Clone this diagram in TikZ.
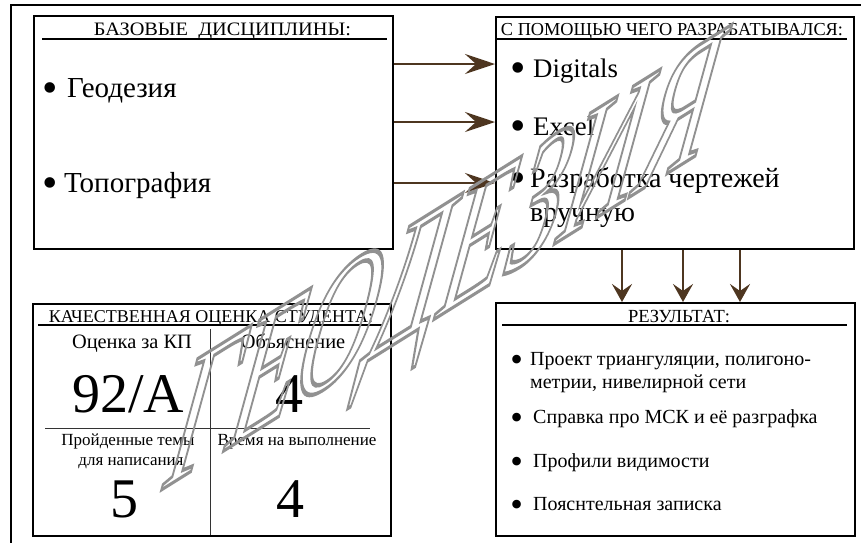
\documentclass[tikz,border=0pt]{standalone}
\usepackage{fontspec}
\setmainfont{Liberation Serif}
\usetikzlibrary{arrows.meta}
\definecolor{arr}{RGB}{78,54,32}
\definecolor{wm}{RGB}{145,145,145}
\newcommand\fs[1]{\fontsize{#1}{#1}\selectfont}
\newcommand\blt[2]{\raisebox{#2}{\fs{#1}\textbullet}}
\newcommand\outlinetext[1]{\special{pdf:literal direct 1 Tr 2.6 w}#1\special{pdf:literal direct 0 Tr}}
\begin{document}
\begin{tikzpicture}[x=1pt,y=-1pt,
  box/.style={draw=black,line width=2pt,inner sep=0pt,anchor=north west},
  rulel/.style={line width=1.3pt},
  thin/.style={line width=0.9pt,draw=black!80},
  txt/.style={inner sep=0pt,anchor=base west},
  ctr/.style={inner sep=0pt,anchor=base},
  conn/.style={draw=arr,line width=2.6pt,-{Stealth[length=30pt,width=20pt,inset=11pt]}},
  dconn/.style={draw=arr,line width=2.6pt,-{Stealth[length=18pt,width=20pt,inset=7pt]}},
]
\path[use as bounding box] (0,0) rectangle (861,542);
\clip (0,0) rectangle (861,542);
% outer frame (partly visible)
\draw[line width=2pt] (11,560) -- (11,5) -- (880,5);
% boxes
\node[box,minimum width=359pt,minimum height=233pt] (b1) at (33,15) {};
\node[box,minimum width=358pt,minimum height=232pt] (b2) at (495,16) {};
\node[box,minimum width=358pt,minimum height=232pt] (b3) at (32,303) {};
\node[box,minimum width=359pt,minimum height=233pt] (b4) at (495,302) {};
% header rules
\draw[rulel] (42,39) -- (387,39);
\draw[rulel] (497,39) -- (847,39);
\draw[rulel] (38,325) -- (382,325);
\draw[rulel] (502,325) -- (847,325);
% headers
\node[ctr,font=\fs{19}] (h1) at (222.5,35) {\scalebox{1.07}[1]{БАЗОВЫЕ\ \ ДИСЦИПЛИНЫ:}};
\node[ctr,font=\fs{18.3}] (h2) at (672,35) {С ПОМОЩЬЮ ЧЕГО РАЗРАБАТЫВАЛСЯ:};
\node[ctr,font=\fs{18}] (h3) at (211,322) {КАЧЕСТВЕННАЯ ОЦЕНКА СТУДЕНТА:};
\node[ctr,font=\fs{18.5}] (h4) at (679,322) {РЕЗУЛЬТАТ:};
% box 1
\node[txt,font=\fs{29}] (g1) at (42,97) {\blt{44}{-5pt}\hspace{9.6pt}Геодезия};
\node[txt,font=\fs{29}] (g2) at (42,192) {\blt{44}{-5pt}\hspace{6.6pt}Топография};
% box 2
\node[txt,font=\fs{26.8}] (t1) at (510,77) {\blt{44}{-5.5pt}\hspace{7.6pt}Digitals};
\node[txt,font=\fs{26.8}] (t2) at (510,135) {\blt{44}{-5.5pt}\hspace{7.6pt}Excel};
\node[txt,font=\fs{28}] (t3) at (510,187) {\blt{44}{-5.5pt}\hspace{4.6pt}Разработка чертежей};
\node[txt,font=\fs{28}] (t4) at (530,221) {вручную};
% box 3
\draw[thin] (210,329) -- (210,535);
\draw[thin] (45,428) -- (370,428);
\node[ctr,font=\fs{20.4}] (q1) at (132,348) {Оценка за КП};
\node[ctr,font=\fs{20.4}] (q2) at (293,348) {Объяснение};
\node[ctr,font=\fs{56}] (q3) at (128,412) {92/A};
\node[ctr,font=\fs{56}] (q4) at (289,412) {4};
\node[ctr,font=\fs{17}] (q5) at (128,445) {Пройденные темы};
\node[ctr,font=\fs{17}] (q6) at (131,465) {для написания};
\node[ctr,font=\fs{17}] (q7) at (297,445) {Время на выполнение};
\node[ctr,font=\fs{56}] (q8) at (124,517) {5};
\node[ctr,font=\fs{56}] (q9) at (290,517) {4};
% box 4
\node[txt,font=\fs{20}] (r1) at (510.2,365) {\blt{36}{-6pt}\hspace{7.2pt}Проект триангуляции, полигоно-};
\node[txt,font=\fs{20}] (r1b) at (530,388) {метрии, нивелирной сети};
\node[txt,font=\fs{20}] (r2) at (510.2,423) {\blt{36}{-6pt}\hspace{10.2pt}Справка про МСК и её разграфка};
\node[txt,font=\fs{20}] (r3) at (510.2,467) {\blt{36}{-6pt}\hspace{10.2pt}Профили видимости};
\node[txt,font=\fs{20}] (r4) at (510.2,510) {\blt{36}{-6pt}\hspace{10.2pt}Пояснтельная записка};
% connectors
\draw[conn] ([yshift=68.5pt]b1.east) -- ([yshift=69pt]b2.west);
\draw[conn] ([yshift=10.5pt]b1.east) -- ([yshift=11pt]b2.west);
\draw[conn] ([yshift=-50.5pt]b1.east) -- ([yshift=-50pt]b2.west);
\draw[dconn] ([xshift=-53pt]b2.south) -- ([xshift=-53.5pt]b4.north);
\draw[dconn] ([xshift=8pt]b2.south) -- ([xshift=7.5pt]b4.north);
\draw[dconn] ([xshift=65pt]b2.south) -- ([xshift=64.5pt]b4.north);
% watermark
\begin{scope}[shift={(158,492)}]
\node[inner sep=0pt,anchor=base west,transform shape,cm={0.892,0.558,0.458,1.667,(0,0)},
  text=wm,font=\fs{120}] (wmk) at (0,0) {\outlinetext{ГЕОДЕЗИЯ}};
\end{scope}
\end{tikzpicture}
\end{document}
